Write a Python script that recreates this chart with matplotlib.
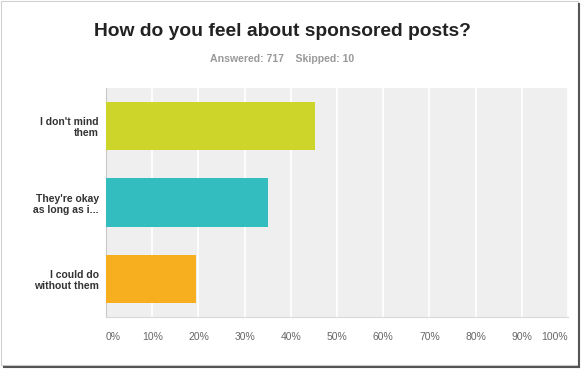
import matplotlib
matplotlib.use("Agg")
import matplotlib.pyplot as plt
from matplotlib.patches import Rectangle
from matplotlib.lines import Line2D

categories = ["I don't mind\nthem", "They're okay\nas long as i...", "I could do\nwithout them"]
values = [45.2, 35.0, 19.5]
colors = ["#cdd52a", "#33bdbe", "#f7ae1f"]
tick_values = [0, 10, 20, 30, 40, 50, 60, 70, 80, 90, 100]
tick_labels = [f"{v}%" for v in tick_values]
title = "How do you feel about sponsored posts?"
subtitle = "Answered: 717    Skipped: 10"

plt.rcParams['font.family'] = ['Liberation Sans', 'DejaVu Sans']

fig = plt.figure(figsize=(5.84, 3.71), dpi=100)
ax = fig.add_axes([106/584, 1-317/371, 462/584, 229/371])
ax.set_facecolor("#efefef")

ypos = list(range(len(categories)))
ax.barh(ypos, values, height=0.63, color=colors, zorder=3)
ax.set_ylim(len(categories) - 0.5, -0.5)
ax.set_xlim(0, 100)
ax.set_xticks(tick_values)
ax.set_xticklabels(tick_labels)
ax.set_yticks(ypos)
ax.set_yticklabels(categories, fontsize=7.5, color="#333333", fontweight="bold", linespacing=1.15)
ax.grid(axis="x", color="white", linewidth=1.2, zorder=1)
ax.tick_params(axis="x", length=0, pad=11, labelsize=7.5, labelcolor="#666666")
ax.tick_params(axis="y", length=0, pad=5)
lbls = ax.get_xticklabels()
lbls[0].set_ha("left")
lbls[-1].set_ha("right")
for s in ["top", "right"]:
    ax.spines[s].set_visible(False)
ax.spines["left"].set_color("#c8c8c8")
ax.spines["bottom"].set_color("#d8d8d8")

fig.text(282/584, 1-31/371, title, ha="center", va="center", fontsize=13.9, fontweight="bold", color="#222222")
fig.text(282/584, 1-59/371, subtitle, ha="center", va="center", fontsize=7.6, fontweight="bold", color="#999999")

# screenshot frame with shadow
fig.add_artist(Rectangle((1/584, 1-365/371), 577/584, 364/371, transform=fig.transFigure,
                         fill=False, edgecolor="#d0d0d0", linewidth=0.8))
fig.add_artist(Line2D([579/584, 579/584], [1-367/371, 1-4/371], transform=fig.transFigure, color="#555555", linewidth=1.5))
fig.add_artist(Line2D([4/584, 579/584], [1-367/371, 1-367/371], transform=fig.transFigure, color="#555555", linewidth=1.5))

fig.savefig("out.png", dpi=100)
